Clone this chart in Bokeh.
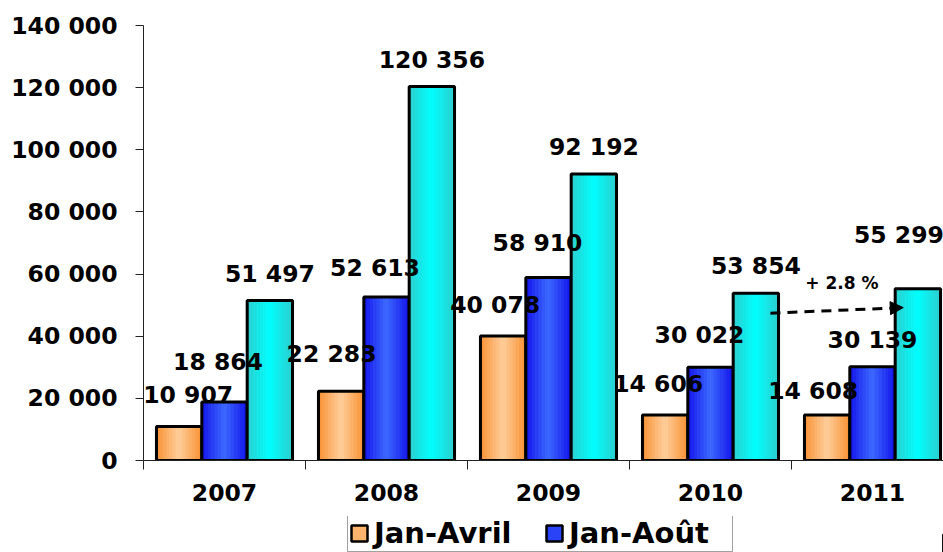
from bokeh.plotting import figure
from bokeh.layouts import column
from bokeh.models import (ColumnDataSource, Range1d, FixedTicker, Legend, LegendItem,
                          Arrow, NormalHead)
from bokeh.embed import file_html
from bokeh.resources import INLINE
from bokeh.core.properties import value

# ---------------- data ----------------
years = ["2007", "2008", "2009", "2010", "2011"]
jan_avril = [10907, 22283, 40078, 14606, 14608]
jan_aout = [18864, 52613, 58910, 30022, 30139]
jan_dec = [51497, 120356, 92192, 53854, 55299]
legend_names = ["Jan-Avril", "Jan-Août"]
y_ticks = [0, 20000, 40000, 60000, 80000, 100000, 120000, 140000]
y_tick_labels = ["0", "20 000", "40 000", "60 000", "80 000", "100 000", "120 000", "140 000"]
growth_text = "+ 2.8 %"

# ---------------- style ----------------
FONT = "DejaVu Sans"
FS = "23.5px"
BAR_W = 0.28
OFFSETS = [-0.28, 0.0, 0.28]
EDGE = [(248, 145, 50), (20, 20, 235), (45, 205, 205)]
CENTER = [(255, 206, 156), (60, 105, 255), (0, 255, 255)]
N_STRIPS = 14
label_dx = [[9, -9.6, -8, -7, -14],
            [-6.5, -11.5, -11, -11, 0],
            [0, 0, 0, 0, -19]]
label_dy = [[-31.6, -36.8, -30.5, -31.6, -24.6],
            [-39.4, -29.5, -34, -32, -27],
            [-26.5, -27, -26.6, -26.7, -54]]

W = 943
MAIN_H, LEG_H = 516, 36
LEFT, TOP, BOTTOM = 143, 25, 56
cat_px = 162.0
x_end = (W - LEFT) / cat_px

p = figure(width=W, height=MAIN_H, output_backend="svg", toolbar_location=None,
           x_range=Range1d(0, x_end), y_range=Range1d(0, 140000),
           min_border_left=LEFT, min_border_top=TOP, min_border_bottom=BOTTOM,
           min_border_right=0, outline_line_color=None)
p.xgrid.visible = False
p.ygrid.visible = False
p.background_fill_color = "white"
p.border_fill_color = "white"

series = [jan_avril, jan_aout, jan_dec]
centers = [i + 0.5 for i in range(len(years))]

# bars (horizontal gradient emulated by thin strips, then a black outline)
styles = []
for s, vals in enumerate(series):
    xs = [c + OFFSETS[s] for c in centers]
    for k in range(N_STRIPS):
        pos = (k + 0.5) / N_STRIPS
        t = abs(pos - 0.5) * 2
        col = tuple(int(round(CENTER[s][j] * (1 - t) + EDGE[s][j] * t)) for j in range(3))
        sx = [x - BAR_W / 2 + pos * BAR_W for x in xs]
        p.vbar(x=sx, top=vals, bottom=0, width=BAR_W / N_STRIPS * 1.2,
               fill_color="#%02x%02x%02x" % col, line_color=None)
    tm = 0.45
    styles.append("#%02x%02x%02x" % tuple(int(round(CENTER[s][j] * (1 - tm) + EDGE[s][j] * tm)) for j in range(3)))
    p.vbar(x=xs, top=vals, bottom=0, width=BAR_W, fill_color=None,
           line_color="black", line_width=3)

# value labels, drawn on top of all bars
for s, vals in enumerate(series):
    xs = [c + OFFSETS[s] for c in centers]
    src = ColumnDataSource(dict(x=xs, y=vals,
                                txt=[f"{v:,}".replace(",", " ") for v in vals],
                                dx=label_dx[s], dy=label_dy[s]))
    p.text(x="x", y="y", text="txt", x_offset="dx", y_offset="dy", source=src,
           text_font=value(FONT), text_font_size=FS, text_font_style="bold",
           text_align="center", text_baseline="middle", text_color="black")

# growth arrow between 2010 and 2011 totals
xs_c = [c + OFFSETS[2] for c in centers]
ax0, ay0 = xs_c[3] + 0.09, jan_dec[3] * 0.88
ax1, ay1 = xs_c[4] - 0.09, jan_dec[4] * 0.89
p.add_layout(Arrow(x_start=ax0, y_start=ay0, x_end=ax1, y_end=ay1,
                   line_width=3, line_dash="10 7", line_color="black",
                   end=NormalHead(size=13, fill_color="black", line_color="black", line_width=1)))
p.text(x=[(ax0 + ax1) / 2], y=[(ay0 + ay1) / 2], text=[growth_text], x_offset=5, y_offset=-27.5,
       text_font=value(FONT), text_font_size="17px", text_font_style="bold",
       text_align="center", text_baseline="middle", text_color="black")

# axes
yax = p.yaxis[0]
yax.ticker = FixedTicker(ticks=y_ticks)
yax.major_label_overrides = {t: l for t, l in zip(y_ticks, y_tick_labels)}
yax.major_tick_in = 0
yax.major_tick_out = 8
yax.minor_tick_line_color = None
yax.major_label_standoff = 18
yax.major_label_text_font = FONT
yax.major_label_text_font_size = FS
yax.major_label_text_font_style = "bold"
yax.major_label_text_color = "black"
yax.axis_line_color = "#222222"
yax.major_tick_line_color = "#222222"

xax = p.xaxis[0]
xax.ticker = FixedTicker(ticks=centers, minor_ticks=list(range(len(years) + 1)))
xax.major_label_overrides = {c: y for c, y in zip(centers, years)}
xax.major_tick_line_color = None
xax.major_tick_in = 0
xax.major_tick_out = 8
xax.minor_tick_in = 0
xax.minor_tick_out = 9
xax.minor_tick_line_color = "#222222"
xax.axis_line_color = "#222222"
xax.major_label_standoff = 14
xax.major_label_text_font = FONT
xax.major_label_text_font_size = FS
xax.major_label_text_font_style = "bold"
xax.major_label_text_color = "black"

# legend strip at the bottom of the window
LEG_PAD = 1
LEG_FONT = 29
leg_h = 2 * LEG_PAD + LEG_FONT * 1.164
pl = figure(width=W, height=LEG_H, output_backend="svg", toolbar_location=None,
            x_range=Range1d(0, 1), y_range=Range1d(0, 1),
            x_axis_type=None, y_axis_type=None,
            min_border_left=LEFT, min_border_top=0, min_border_bottom=0,
            min_border_right=0, outline_line_color=None)
pl.xgrid.visible = False
pl.ygrid.visible = False
items = []
for i in range(2):
    r = pl.vbar(x=[5], top=[0.5], width=0.1, fill_color=styles[i], line_color="black", line_width=2.5)
    items.append(LegendItem(label=legend_names[i], renderers=[r]))
legend = Legend(items=items, orientation="horizontal",
                location=(347 - LEFT, LEG_H - leg_h - 0.3),
                glyph_width=20, glyph_height=20, label_standoff=5, spacing=8,
                label_width=162, padding=LEG_PAD, margin=0,
                border_line_color="#444444", border_line_width=1,
                background_fill_color="white", background_fill_alpha=1,
                label_text_font=FONT, label_text_font_size=f"{LEG_FONT}px",
                label_text_font_style="bold", label_text_color="black")
pl.add_layout(legend, "center")

layout = column(p, pl, spacing=0)
open("out.html", "w").write(file_html(layout, INLINE))
